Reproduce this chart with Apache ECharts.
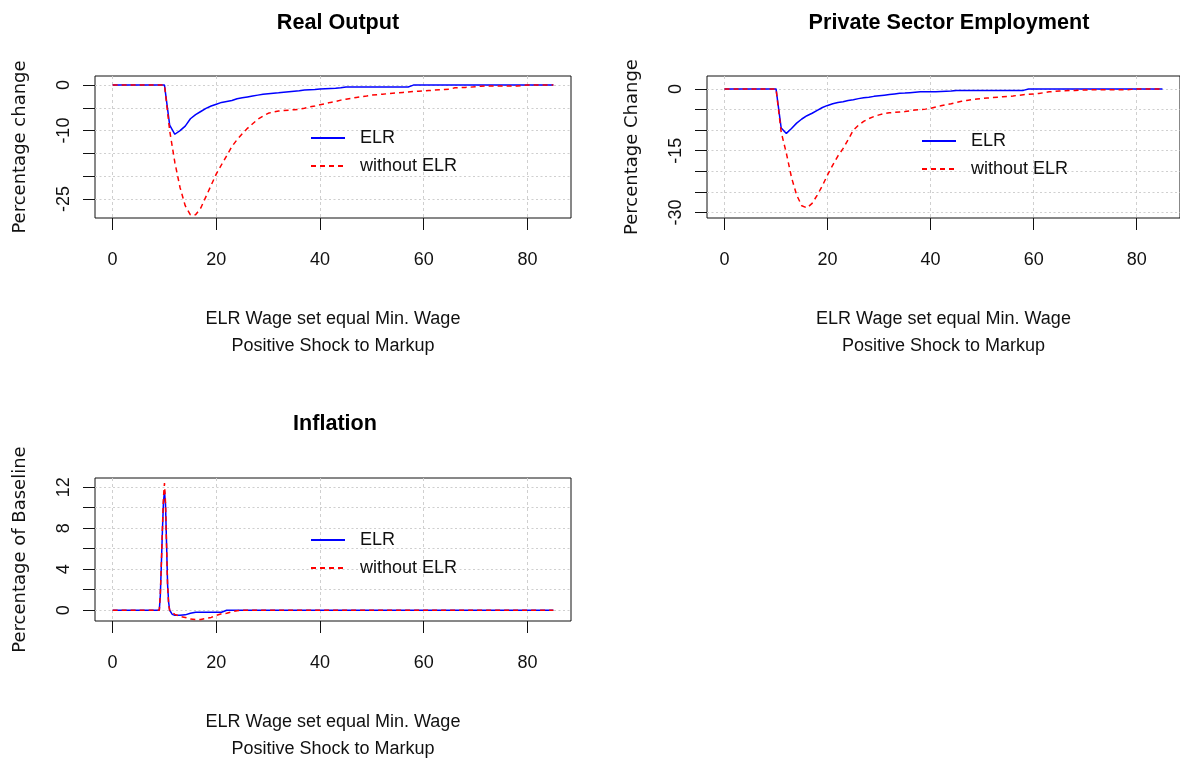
<!DOCTYPE html>
<html>
<head>
<meta charset="utf-8">
<script src="https://cdn.jsdelivr.net/npm/echarts@6/dist/echarts.min.js"></script>
<style>html,body{margin:0;padding:0;background:#fff}#c{width:1180px;height:765px}</style>
</head>
<body>
<div id="c"></div>
<script>
// ---- data ----
var periods = Array.from({length: 86}, function (_, i) { return i; });

var outputELR = [0,0,0,0,0,0,0,0,0,0,0,
  -8.8,-10.8,-10.0,-9.0,-7.4,-6.5,-5.8,-5.1,-4.6,-4.2,
  -3.8,-3.6,-3.4,-3.0,-2.8,-2.6,-2.4,-2.2,-2.0,-1.9,
  -1.8,-1.7,-1.55,-1.45,-1.35,-1.25,-1.1,-1.0,-0.95,-0.85,
  -0.8,-0.75,-0.7,-0.6,-0.4,-0.4,-0.4,-0.4,-0.4,-0.4,
  -0.4,-0.4,-0.4,-0.4,-0.4,-0.4,-0.4,0,0,0,
  0,0,0,0,0,0,0,0,0,0,
  0,0,0,0,0,0,0,0,0,0,
  0,0,0,0,0];
var outputNoELR = [0,0,0,0,0,0,0,0,0,0,0,
  -10,-17,-22.5,-26.5,-28.5,-28.5,-27,-24.5,-22,-19.5,
  -17.5,-15.5,-13.5,-12,-10.7,-9.5,-8.5,-7.5,-6.8,-6.2,
  -5.9,-5.7,-5.6,-5.5,-5.4,-5.3,-5.1,-4.8,-4.6,-4.3,
  -4.1,-3.8,-3.6,-3.3,-3.1,-2.9,-2.7,-2.55,-2.4,-2.2,
  -2.1,-2.0,-1.9,-1.8,-1.7,-1.6,-1.5,-1.4,-1.35,-1.3,
  -1.2,-1.1,-1.0,-0.95,-0.9,-0.6,-0.55,-0.5,-0.45,-0.35,
  -0.25,-0.2,-0.2,-0.2,-0.2,-0.2,-0.2,-0.2,-0.1,0,
  0,0,0,0,0];

var emplELR = [0,0,0,0,0,0,0,0,0,0,0,
  -9.5,-10.8,-9.6,-8.3,-7.3,-6.5,-5.9,-5.2,-4.5,-4.0,
  -3.6,-3.3,-3.1,-2.8,-2.6,-2.35,-2.15,-2.0,-1.8,-1.65,
  -1.5,-1.35,-1.2,-1.05,-1.0,-0.9,-0.8,-0.7,-0.65,-0.65,
  -0.65,-0.6,-0.55,-0.5,-0.35,-0.35,-0.35,-0.35,-0.35,-0.35,
  -0.35,-0.35,-0.35,-0.35,-0.35,-0.35,-0.35,-0.35,0,0,
  0,0,0,0,0,0,0,0,0,0,
  0,0,0,0,0,0,0,0,0,0,
  0,0,0,0,0];
var emplNoELR = [0,0,0,0,0,0,0,0,0,0,0,
  -10.5,-15.6,-21.5,-25.8,-28.4,-28.9,-27.8,-25.8,-23.5,-20.9,
  -18.5,-16.3,-14.5,-12.3,-10,-8.8,-7.9,-7.2,-6.7,-6.3,
  -6.0,-5.8,-5.7,-5.6,-5.5,-5.3,-5.1,-5.0,-4.9,-4.7,
  -4.4,-4.1,-3.8,-3.6,-3.3,-3.0,-2.8,-2.6,-2.45,-2.3,
  -2.2,-2.1,-2.0,-1.9,-1.8,-1.7,-1.55,-1.4,-1.3,-1.2,
  -1.1,-0.9,-0.7,-0.6,-0.5,-0.45,-0.4,-0.35,-0.3,-0.25,
  -0.2,-0.2,-0.2,-0.2,-0.2,-0.2,-0.2,-0.2,-0.1,0,
  0,0,0,0,0];

var inflELRx = [0,9,9.2,9.4,9.6,9.8,10,10.2,10.4,10.6,10.8,11,11.5,12,13,14,15,16,18,20,21,22,85];
var inflELR  = [0,0,1.5,4.5,7.7,10.5,11.6,10.3,6.5,2.5,0.8,0,-0.4,-0.5,-0.5,-0.45,-0.3,-0.2,-0.2,-0.2,-0.2,0,0];
var inflNoELRx = [0,9,9.2,9.4,9.6,9.8,10,10.2,10.4,10.6,10.8,11,11.5,12,13,14,15,16,17,18,19,20,21,22,23,24,25,85];
var inflNoELR  = [0,0,1.6,4.6,8.0,11.0,12.4,10.5,6.3,2.4,0.5,0,-0.2,-0.4,-0.6,-0.7,-0.85,-0.9,-0.9,-0.8,-0.7,-0.5,-0.35,-0.3,-0.15,-0.05,0,0];

var xTicks = [0, 20, 40, 60, 80];
var outputYTicks = [-25, -20, -15, -10, -5, 0];
var outputYLabels = [-25, -10, 0];
var emplYTicks = [-30, -25, -20, -15, -10, -5, 0];
var emplYLabels = [-30, -15, 0];
var inflYTicks = [0, 2, 4, 6, 8, 10, 12];
var inflYLabels = [0, 4, 8, 12];

var panelTitles = ['Real Output', 'Private Sector Employment', 'Inflation'];
var yTitles = ['Percentage change', 'Percentage Change', 'Percentage of Baseline'];
var xTitle = 'ELR Wage set equal Min. Wage\nPositive Shock to Markup';
var seriesNames = ['ELR', 'without ELR'];

// ---- helpers ----
function zip(xs, ys) { return xs.map(function (x, i) { return [x, ys[i]]; }); }
var FONT = "'Liberation Sans', Arial, sans-serif";

function xAxisCfg(gi) {
  return {
    type: 'value', gridIndex: gi, min: -3.4, max: 88.4,
    axisLine: {show: false, onZero: false},
    axisTick: {show: true, inside: false, length: 12, customValues: xTicks, lineStyle: {color: '#111', width: 1}},
    axisLabel: {customValues: xTicks, margin: 33, fontSize: 18, color: '#111', fontFamily: FONT},
    splitLine: {show: true, lineStyle: {color: '#cfcfcf', type: [3, 3], width: 1}},
    name: xTitle, nameLocation: 'middle', nameGap: 88,
    nameTextStyle: {fontSize: 18, color: '#111', fontFamily: FONT, lineHeight: 27}
  };
}
function yAxisCfg(gi, min, max, ticks, labels, title) {
  return {
    type: 'value', gridIndex: gi, min: min, max: max,
    axisLine: {show: false, onZero: false},
    axisTick: {show: true, inside: false, length: 12, customValues: ticks, lineStyle: {color: '#111', width: 1}},
    axisLabel: {customValues: labels, rotate: 90, margin: 22, fontSize: 18, color: '#111', fontFamily: FONT},
    splitLine: {show: true, lineStyle: {color: '#cfcfcf', type: [2, 2.5], width: 1}},
    name: title, nameLocation: 'middle', nameGap: 66,
    nameTextStyle: {fontSize: 18, color: '#111', fontFamily: "'DejaVu Sans', sans-serif"}
  };
}
function blue(gi, data) {
  return {name: seriesNames[0], type: 'line', xAxisIndex: gi, yAxisIndex: gi, data: data,
    symbol: 'none', lineStyle: {color: '#0000ff', width: 1.5, type: 'solid'}, itemStyle: {color: '#0000ff'}};
}
function red(gi, data) {
  return {name: seriesNames[1], type: 'line', xAxisIndex: gi, yAxisIndex: gi, data: data,
    symbol: 'none', lineStyle: {color: '#ff0000', width: 1.5, type: [5, 4]}, itemStyle: {color: '#ff0000'}};
}
function legendCfg(left, top) {
  return {
    left: left, top: top, orient: 'vertical', padding: 0, itemWidth: 34, itemHeight: 14, itemGap: 10,
    data: seriesNames, selectedMode: false,
    itemStyle: {opacity: 0},
    textStyle: {fontSize: 18, color: '#111', fontFamily: FONT, padding: [0, 0, 0, 10]}
  };
}
function titleCfg(text, cx, top) {
  return {text: text, left: cx, top: top, textAlign: 'center',
    textStyle: {fontSize: 21.6, fontWeight: 'bold', color: '#000', fontFamily: FONT}};
}

var gridBase = {show: true, borderColor: '#111', borderWidth: 1, backgroundColor: 'transparent', containLabel: false};

var option = {
  animation: false,
  backgroundColor: '#ffffff',
  title: [
    titleCfg(panelTitles[0], 333, 7),
    titleCfg(panelTitles[1], 944, 7),
    titleCfg(panelTitles[2], 330, 408)
  ],
  legend: [legendCfg(310, 129), legendCfg(921, 132), legendCfg(310, 531)],
  grid: [
    Object.assign({left: 95, top: 76, width: 476, height: 142}, gridBase),
    Object.assign({left: 707, top: 76, width: 476, height: 142}, gridBase),
    Object.assign({left: 95, top: 478, width: 476, height: 143}, gridBase)
  ],
  xAxis: [xAxisCfg(0), xAxisCfg(1), xAxisCfg(2)],
  yAxis: [
    yAxisCfg(0, -29.2, 2.0, outputYTicks, outputYLabels, yTitles[0]),
    yAxisCfg(1, -31.36, 3.15, emplYTicks, emplYLabels, yTitles[1]),
    yAxisCfg(2, -1.05, 12.9, inflYTicks, inflYLabels, yTitles[2])
  ],
  series: [
    blue(0, zip(periods, outputELR)), red(0, zip(periods, outputNoELR)),
    blue(1, zip(periods, emplELR)), red(1, zip(periods, emplNoELR)),
    blue(2, zip(inflELRx, inflELR)), red(2, zip(inflNoELRx, inflNoELR))
  ]
};

var chart = echarts.init(document.getElementById('c'), null, {renderer: 'canvas'});
chart.setOption(option);
</script>
</body>
</html>
